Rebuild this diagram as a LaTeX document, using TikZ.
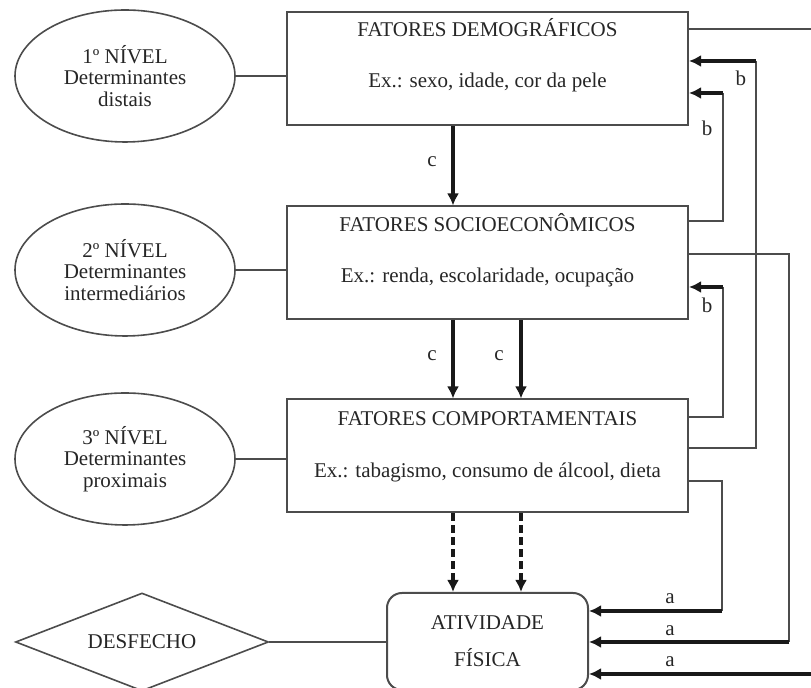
\documentclass[tikz,border=0pt]{standalone}
\usepackage{fontspec}
\setmainfont{Liberation Serif}
\usetikzlibrary{shapes.geometric,arrows.meta}

\begin{document}
\begin{tikzpicture}[x=0.5pt, y=-0.5pt,
  every node/.style={font=\fontsize{10.5}{10.75}\selectfont, text=black!85},
  fator/.style={draw=black!70, line width=1pt, minimum width=200.5pt, minimum height=56.5pt, inner sep=0pt},
  nivel/.style={shape=ellipse, draw=black!70, line width=0.8pt, minimum width=110pt, minimum height=66pt, inner sep=0pt, align=center},
  liga/.style={-, line width=1pt, draw=black!70},
  seta/.style={-{Latex[length=6pt,width=6pt]}, line width=1.7pt, draw=black!90},
  tracejada/.style={seta, dash pattern=on 4pt off 2pt},
  letra/.style={inner sep=0pt, anchor=base}]
\useasboundingbox (0,0) rectangle (811,688);
\clip (0,0) rectangle (811,688);
% niveis
\node[nivel] (niv1) at (125,76) {1º NÍVEL\\Determinantes\\distais};
\node[nivel] (niv2) at (125,270) {2º NÍVEL\\Determinantes\\intermediários};
\node[nivel] (niv3) at (125,459) {3º NÍVEL\\Determinantes\\proximais};
% fatores
\node[fator] (dem) at (487.5,69) {};
\node[fator] (soc) at (487.5,263) {};
\node[fator] (com) at (487.5,456) {};
\node[letra] (demtit) at (487.5,37) {FATORES DEMOGRÁFICOS};
\node[letra] (demex) at (487.5,88) {Ex.: sexo, idade, cor da pele};
\node[letra] (soctit) at (487.5,232) {FATORES SOCIOECONÔMICOS};
\node[letra] (socex) at (487.5,283) {Ex.: renda, escolaridade, ocupação};
\node[letra] (comtit) at (487.5,426) {FATORES COMPORTAMENTAIS};
\node[letra] (comex) at (487.5,478) {Ex.: tabagismo, consumo de álcool, dieta};
% desfecho
\node[shape=diamond, draw=black!70, line width=0.8pt, aspect=2.58, minimum width=126.5pt, minimum height=49pt, inner sep=0pt] (desf) at (142,642) {DESFECHO};
\node[draw=black!70, line width=1pt, rounded corners=7.5pt, minimum width=100.5pt, minimum height=48.5pt, align=center] (ativ) at (487.5,641.5) {ATIVIDADE\\[7.75pt]FÍSICA};
\draw [liga] (niv1.east) -- (niv1.east -| dem.west);
\draw [liga] (niv2.east) -- (niv2.east -| soc.west);
\draw [liga] (niv3.east) -- (niv3.east -| com.west);
\draw [liga] (desf.east) -- (desf.east -| ativ.west);
% setas c
\coordinate (xl) at (453,0);
\coordinate (xr) at (521,0);
\draw [seta] (xl |- dem.south) -- (xl |- soc.north);
\draw [seta] (xl |- soc.south) -- (xl |- com.north);
\draw [seta] (xr |- soc.south) -- (xr |- com.north);
\draw [tracejada] (xl |- com.south) -- (xl |- ativ.north);
\draw [tracejada] (xr |- com.south) -- (xr |- ativ.north);
\node[letra] (c1) at (432,167) {c};
\node[letra] (c2) at (432,361) {c};
\node[letra] (c3) at (499,361) {c};
% setas b
\coordinate (b1) at (723,221); \coordinate (b1t) at (723,93);
\coordinate (b2) at (723,417); \coordinate (b2t) at (723,287);
\coordinate (b3) at (756,448); \coordinate (b3t) at (756,61);
\draw [liga] (b1 -| soc.east) -- (b1) -- (b1t);
\draw [seta] (b1t) -- (b1t -| dem.east);
\draw [liga] (b2 -| com.east) -- (b2) -- (b2t);
\draw [seta] (b2t) -- (b2t -| soc.east);
\draw [liga] (b3 -| com.east) -- (b3) -- (b3t);
\draw [seta] (b3t) -- (b3t -| dem.east);
\node[letra] (lb1) at (707,136) {b};
\node[letra] (lb2) at (707,313) {b};
\node[letra] (lb3) at (741,86) {b};
% setas a
\coordinate (a1) at (722,481); \coordinate (a1t) at (722,611);
\coordinate (a2) at (789,254); \coordinate (a2t) at (789,642);
\coordinate (a3) at (818,29); \coordinate (a3t) at (818,674);
\draw [liga] (a1 -| com.east) -- (a1) -- (a1t);
\draw [seta] (a1t) -- (a1t -| ativ.east);
\draw [liga] (a2 -| soc.east) -- (a2) -- (a2t);
\draw [seta] (a2t) -- (a2t -| ativ.east);
\draw [liga] (a3 -| dem.east) -- (a3) -- (a3t);
\draw [seta] (a3t) -- (a3t -| ativ.east);
\node[letra] (la1) at (670,604) {a};
\node[letra] (la2) at (670,636) {a};
\node[letra] (la3) at (670,667) {a};
\end{tikzpicture}
\end{document}
